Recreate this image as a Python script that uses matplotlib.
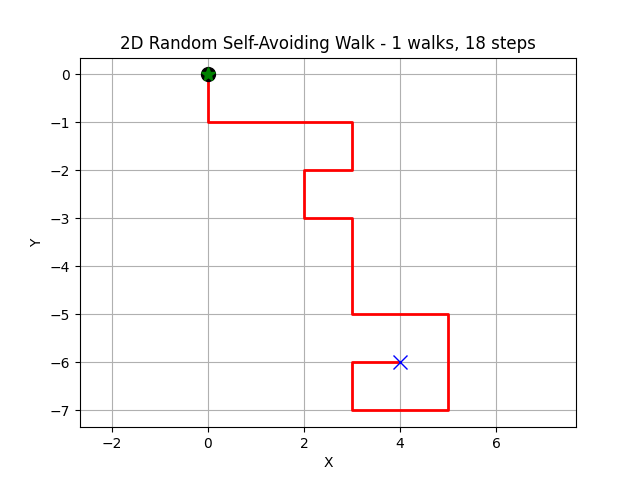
import numpy as np
import matplotlib
matplotlib.use("Agg")
import matplotlib.pyplot as plt

# walk coordinates
x = [0, 0, 1, 2, 3, 3, 2, 2, 3, 3, 3, 4, 5, 5, 5, 4, 3, 3, 4]
y = [0, -1, -1, -1, -1, -2, -2, -3, -3, -4, -5, -5, -5, -6, -7, -7, -7, -6, -6]
n_walks = 1
n_steps = len(x) - 1

plt.figure(figsize=(6.4, 4.8), dpi=100)
plt.plot(x, y, 'r-', linewidth=2)
plt.plot(x[0], y[0], 'ko', markersize=10)
plt.plot(x[0], y[0], 'g*', markersize=10)
plt.plot(x[-1], y[-1], 'bx', markersize=10)
plt.axis('equal')
plt.grid(True)
plt.xlabel('X')
plt.ylabel('Y')
plt.title(f'2D Random Self-Avoiding Walk - {n_walks} walks, {n_steps} steps')
plt.savefig('out.png')
